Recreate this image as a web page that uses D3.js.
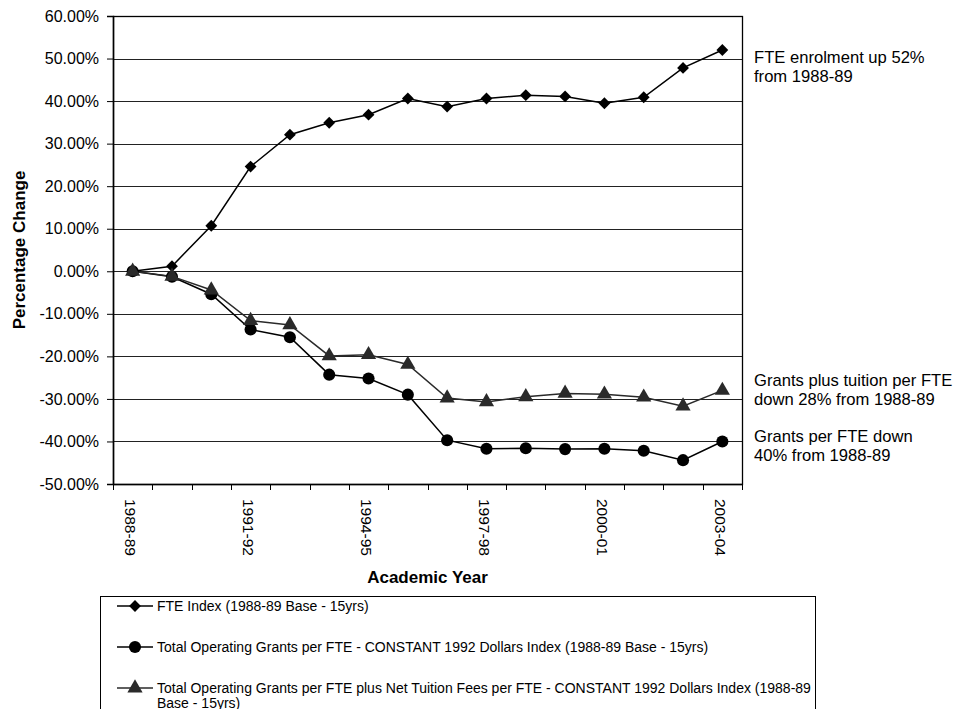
<!DOCTYPE html>
<html>
<head>
<meta charset="utf-8">
<script src="https://cdn.jsdelivr.net/npm/d3@7"></script>
<style>
  html, body { margin: 0; padding: 0; background: #fff; }
  svg { display: block; font-family: "Liberation Sans", Arial, sans-serif; }
</style>
</head>
<body>
<svg id="chart" width="956" height="709"></svg>
<script>
// Academic years (x categories)
const years = ["1988-89","1989-90","1990-91","1991-92","1992-93","1993-94","1994-95","1995-96",
               "1996-97","1997-98","1998-99","1999-00","2000-01","2001-02","2002-03","2003-04"];
// Years that carry a tick label
const labelledYears = ["1988-89","1991-92","1994-95","1997-98","2000-01","2003-04"];
// Y axis tick values (percent)
const yTicks = [-50, -40, -30, -20, -10, 0, 10, 20, 30, 40, 50, 60];

// Percentage change from 1988-89
const fteIndex = [0, 1.2, 10.7, 24.6, 32.1, 34.9, 36.8, 40.6, 38.7, 40.6, 41.4, 41.1, 39.5, 40.9, 47.8, 52.0];
const grantsPerFte = [0, -1.3, -5.4, -13.7, -15.5, -24.3, -25.2, -29.0, -39.7, -41.7, -41.6, -41.8, -41.7, -42.2, -44.4, -40.0];
const grantsPlusTuition = [0, -1.2, -4.4, -11.6, -12.6, -19.9, -19.6, -21.9, -29.8, -30.7, -29.5, -28.7, -28.9, -29.6, -31.7, -28.0];

const seriesNames = [
  "FTE Index (1988-89 Base - 15yrs)",
  "Total Operating Grants per FTE - CONSTANT 1992 Dollars Index (1988-89 Base - 15yrs)",
  "Total Operating Grants per FTE plus Net Tuition Fees per FTE - CONSTANT 1992 Dollars Index (1988-89 Base - 15yrs)"
];
const annotations = [
  { lines: ["FTE enrolment up 52%", "from 1988-89"], y: 57 },
  { lines: ["Grants plus tuition per FTE", "down 28% from 1988-89"], y: 380 },
  { lines: ["Grants per FTE down", "40% from 1988-89"], y: 436 }
];

const svg = d3.select("#chart");
const plotL = 113, plotR = 742, plotT = 16, plotB = 484;

const x = d3.scaleBand().domain(years).range([plotL, plotR]);
const y = d3.scaleLinear().domain([-50, 60]).range([plotB, plotT]);

// Gridlines
svg.append("g").selectAll("line").data(yTicks).join("line")
  .attr("x1", plotL).attr("x2", plotR)
  .attr("y1", d => Math.round(y(d)) + 0.5).attr("y2", d => Math.round(y(d)) + 0.5)
  .attr("stroke", "#222").attr("stroke-width", 1);

// Plot border
svg.append("rect")
  .attr("x", plotL + 0.5).attr("y", plotT + 0.5)
  .attr("width", plotR - plotL).attr("height", plotB - plotT)
  .attr("fill", "none").attr("stroke", "#000").attr("stroke-width", 1.3);

// Y axis
const yAxis = svg.append("g")
  .attr("transform", `translate(${plotL},0)`)
  .call(d3.axisLeft(y).tickValues(yTicks).tickFormat(d => d.toFixed(2) + "%").tickSize(6).tickPadding(8));
yAxis.select(".domain").attr("stroke", "#000").attr("stroke-width", 1.5);
yAxis.selectAll(".tick line").attr("stroke", "#000");
yAxis.selectAll(".tick text").attr("font-size", 16).attr("font-family", "Liberation Sans, Arial, sans-serif").attr("fill", "#000");

// X axis: ticks at category boundaries
const xAxisG = svg.append("g").attr("transform", `translate(0,${plotB})`);
xAxisG.append("line").attr("x1", plotL).attr("x2", plotR).attr("y1", 0.5).attr("y2", 0.5)
  .attr("stroke", "#000").attr("stroke-width", 1.5);
const boundaries = years.map(d => x(d)).concat([x(years[years.length - 1]) + x.bandwidth()]);
xAxisG.selectAll("line.tk").data(boundaries).join("line").attr("class", "tk")
  .attr("x1", d => Math.round(d) + 0.5).attr("x2", d => Math.round(d) + 0.5)
  .attr("y1", 0).attr("y2", 6).attr("stroke", "#000");
xAxisG.selectAll("text").data(labelledYears).join("text")
  .attr("transform", d => `translate(${x(d) + x.bandwidth() / 2 - 2},15) rotate(90)`)
  .attr("font-size", 15.5).attr("fill", "#000")
  .attr("dominant-baseline", "central")
  .text(d => d);

// Axis titles
svg.append("text").attr("x", (plotL + plotR) / 2).attr("y", 583)
  .attr("text-anchor", "middle").attr("font-size", 17).attr("font-weight", "bold").text("Academic Year");
svg.append("text").attr("transform", `translate(25,${(plotT + plotB) / 2}) rotate(-90)`)
  .attr("text-anchor", "middle").attr("font-size", 17).attr("font-weight", "bold").text("Percentage Change");

// Series (diamond = square turned 45 degrees)
const series = [
  { values: fteIndex, color: "#000", symbol: d3.symbolSquare, size: 70, rot: 45 },
  { values: grantsPerFte, color: "#000", symbol: d3.symbolCircle, size: 115, rot: 0 },
  { values: grantsPlusTuition, color: "#2a2a2a", symbol: d3.symbolTriangle, size: 100, rot: 0 }
];
const cx = d => x(d) + x.bandwidth() / 2;
const line = d3.line().x((v, i) => cx(years[i])).y(v => y(v));

series.forEach(s => {
  svg.append("path").datum(s.values).attr("d", line)
    .attr("fill", "none").attr("stroke", s.color).attr("stroke-width", 1.5);
});
series.forEach(s => {
  svg.append("g").selectAll("path").data(s.values).join("path")
    .attr("transform", (v, i) => `translate(${cx(years[i])},${y(v)}) rotate(${s.rot})`)
    .attr("d", d3.symbol().type(s.symbol).size(s.size))
    .attr("fill", s.color);
});

// Annotations
annotations.forEach(a => {
  const t = svg.append("text").attr("x", 754).attr("y", a.y).attr("font-size", 16.6)
    .attr("dominant-baseline", "central").attr("fill", "#000");
  a.lines.forEach((l, i) => t.append("tspan").attr("x", 754).attr("dy", i === 0 ? 0 : 19).text(l));
});

// Legend
const lg = svg.append("g");
lg.append("rect").attr("x", 100.5).attr("y", 596.5).attr("width", 715).attr("height", 130)
  .attr("fill", "none").attr("stroke", "#000").attr("stroke-width", 1);
const legendRows = [
  { name: [seriesNames[0]], y: 606 },
  { name: [seriesNames[1]], y: 647 },
  { name: ["Total Operating Grants per FTE plus Net Tuition Fees per FTE - CONSTANT 1992 Dollars Index (1988-89", "Base - 15yrs)"], y: 688 }
];
legendRows.forEach((r, i) => {
  const s = series[i];
  lg.append("line").attr("x1", 117).attr("x2", 153).attr("y1", r.y).attr("y2", r.y)
    .attr("stroke", s.color).attr("stroke-width", 1.5);
  lg.append("path").attr("transform", `translate(135,${r.y}) rotate(${s.rot})`)
    .attr("d", d3.symbol().type(s.symbol).size(s.size)).attr("fill", s.color);
  const t = lg.append("text").attr("x", 157).attr("y", r.y).attr("font-size", 14)
    .attr("dominant-baseline", "central").attr("fill", "#000");
  r.name.forEach((l, j) => t.append("tspan").attr("x", 157).attr("dy", j === 0 ? 0 : 14.5).text(l));
});
</script>
</body>
</html>
